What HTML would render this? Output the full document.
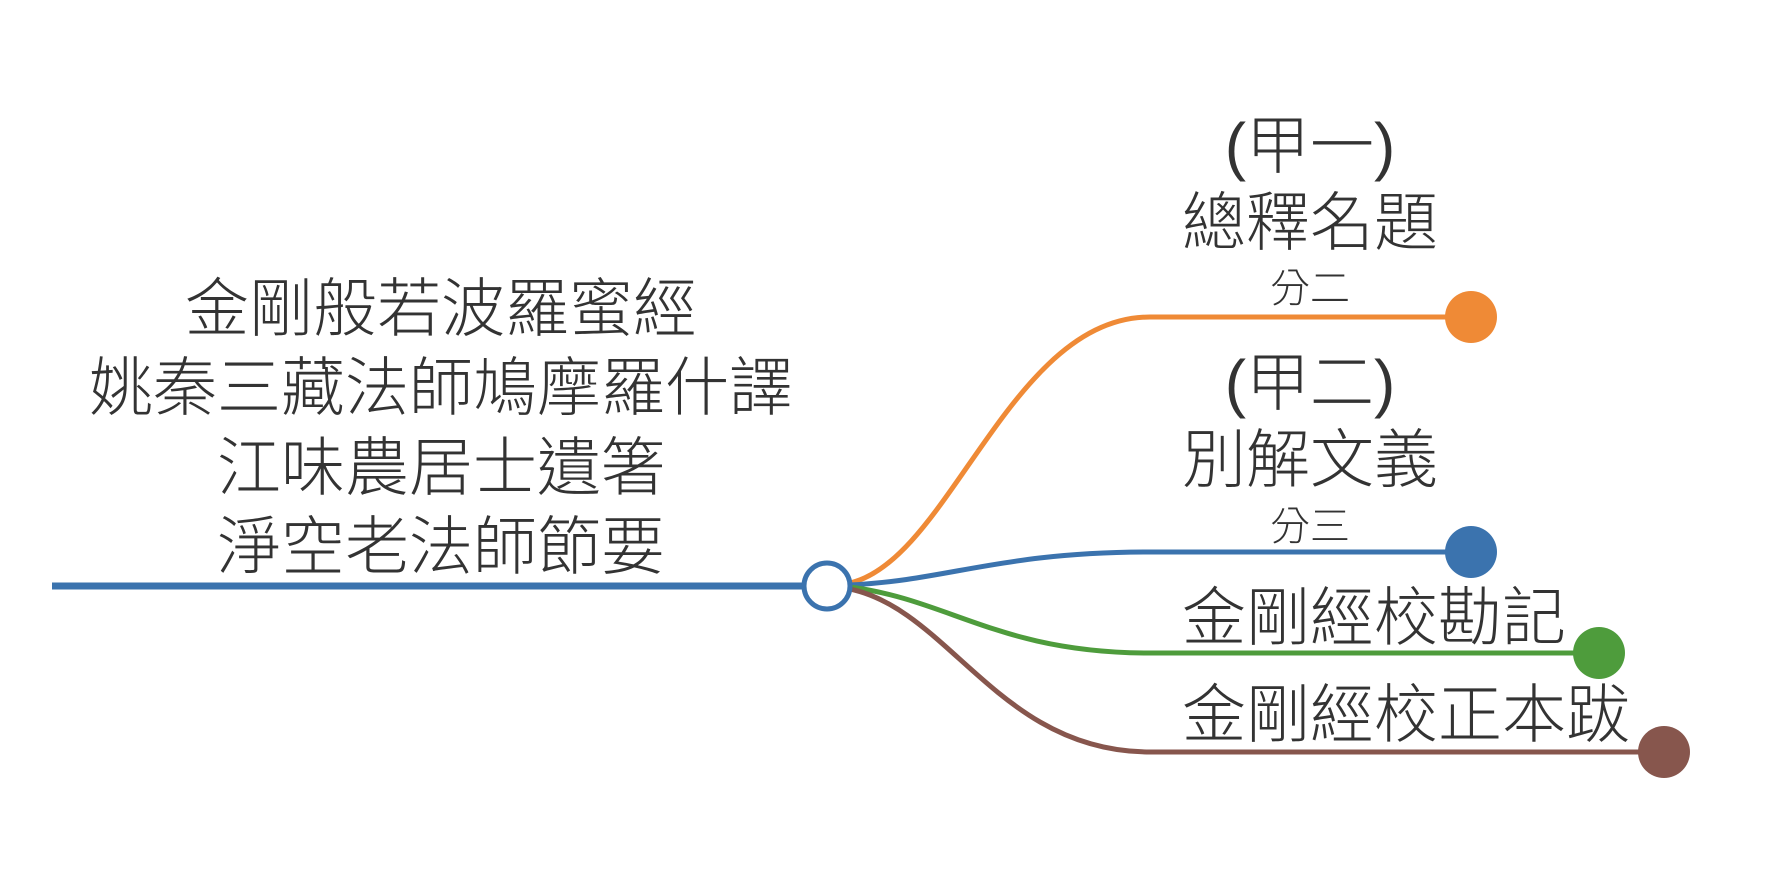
<!DOCTYPE html>
<html><head><meta charset="utf-8"><style>
html,body{margin:0;padding:0;background:#fff;}
body{width:1774px;height:876px;overflow:hidden;position:relative;}
svg{position:absolute;left:0;top:0;}
text{font-family:"Liberation Sans","Noto Sans CJK TC",sans-serif;fill:#333;font-weight:300;}
</style></head><body>
<svg width="1774" height="876" viewBox="0 0 1774 876">
<line x1="52" y1="586" x2="805" y2="586" stroke="#3b73ae" stroke-width="7"/>
<path d="M850 583 C950 560 1010 317 1150 317 L1471 317" fill="none" stroke="#ef8a36" stroke-width="5"/>
<path d="M850 585 C950 580 1000 552 1150 552 L1471 552" fill="none" stroke="#3b73ae" stroke-width="5"/>
<path d="M850 587 C950 600 1000 653 1150 653 L1599 653" fill="none" stroke="#4e9c3c" stroke-width="5"/>
<path d="M850 589 C950 610 1000 752 1150 752 L1664 752" fill="none" stroke="#87564d" stroke-width="5"/>
<circle cx="827" cy="586" r="23" fill="#fff" stroke="#3b73ae" stroke-width="5"/>
<circle cx="1471" cy="317" r="26" fill="#ef8a36"/>
<circle cx="1471" cy="552" r="26" fill="#3b73ae"/>
<circle cx="1599" cy="653" r="26" fill="#4e9c3c"/>
<circle cx="1664" cy="752" r="26" fill="#87564d"/>
<g font-size="64" text-anchor="middle">
<text x="441" y="331">金剛般若波羅蜜經</text>
<text x="441" y="410">姚秦三藏法師鳩摩羅什譯</text>
<text x="441" y="490">江味農居士遺箸</text>
<text x="441" y="569">淨空老法師節要</text>
<text x="1310" y="168">(甲一)</text>
<text x="1310" y="245">總釋名題</text>
<text x="1310" y="405">(甲二)</text>
<text x="1310" y="482">別解文義</text>
</g>
<g font-size="40" text-anchor="middle">
<text x="1310" y="302">分二</text>
<text x="1310" y="540">分三</text>
</g>
<g font-size="64">
<text x="1182" y="640">金剛經校勘記</text>
<text x="1182" y="737">金剛經校正本跋</text>
</g>
</svg>
</body></html>
